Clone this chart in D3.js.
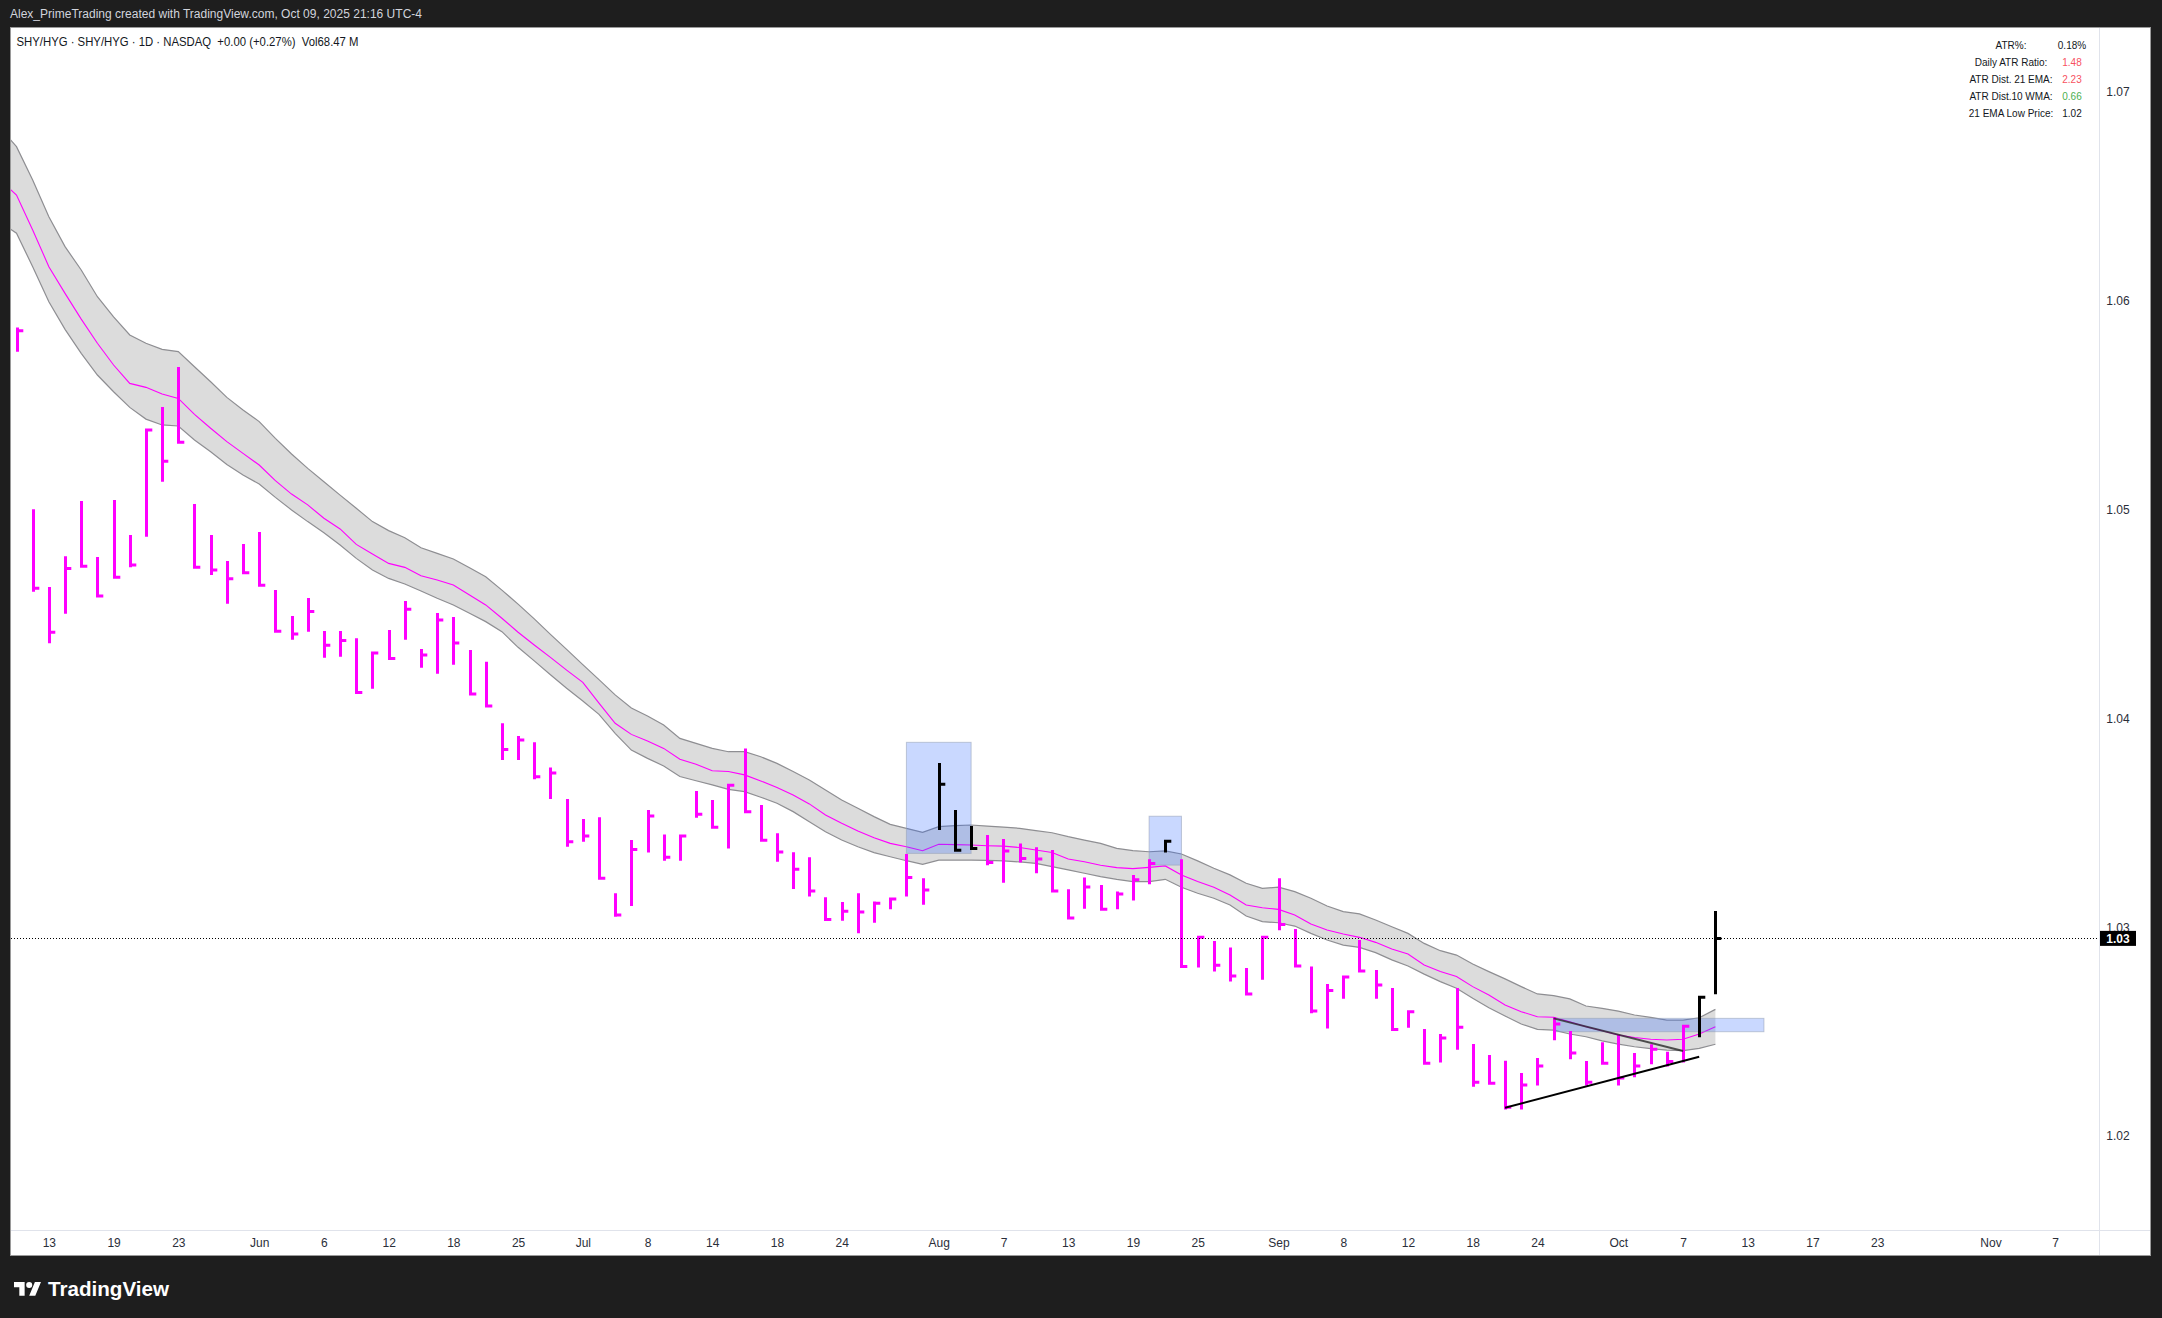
<!DOCTYPE html>
<html><head><meta charset="utf-8">
<script src="https://cdn.jsdelivr.net/npm/d3@7"></script>
<style>html,body{margin:0;padding:0;background:#1e1e1e;} svg{display:block;}</style>
</head><body>
<svg id="c" width="2162" height="1318"></svg>
<script>
// ---------- DATA ----------
const highs = [1.05871,1.05000,1.04628,1.04775,1.05040,1.04771,1.05044,1.04877,1.05384,1.05490,
1.05681,1.05025,1.04877,1.04752,1.04834,1.04891,1.04613,1.04489,1.04575,1.04417,
1.04417,1.04383,1.04316,1.04422,1.04561,1.04331,1.04503,1.04484,1.04326,1.04270,
1.03975,1.03914,1.03884,1.03764,1.03613,1.03517,1.03525,1.03161,1.03416,1.03560,
1.03443,1.03439,1.03651,1.03608,1.03683,1.03855,1.03584,1.03448,1.03357,1.03333,
1.03142,1.03119,1.03161,1.03122,1.03140,1.03349,1.03233,1.03785,1.03560,1.03483,
1.03440,1.03421,1.03400,1.03381,1.03368,1.03180,1.03237,1.03201,1.03170,1.03249,
1.03324,1.03413,1.03324,1.02953,1.02932,1.02901,1.02803,1.02953,1.03233,1.02990,
1.02810,1.02727,1.02765,1.02937,1.02794,1.02707,1.02599,1.02511,1.02487,1.02707,
1.02439,1.02386,1.02359,1.02300,1.02372,1.02568,1.02501,1.02358,1.02447,1.02484,
1.02396,1.02438,1.02402,1.02527,1.02666,1.03076];
const lows = [1.05755,1.04605,1.04358,1.04500,1.04722,1.04578,1.04667,1.04722,1.04869,1.05132,
1.05316,1.04717,1.04685,1.04548,1.04689,1.04629,1.04411,1.04375,1.04414,1.04289,
1.04294,1.04119,1.04141,1.04281,1.04375,1.04241,1.04213,1.04256,1.04109,1.04052,
1.03799,1.03799,1.03707,1.03613,1.03384,1.03408,1.03228,1.03049,1.03100,1.03356,
1.03317,1.03317,1.03523,1.03472,1.03375,1.03547,1.03408,1.03312,1.03182,1.03145,
1.03030,1.03030,1.02969,1.03020,1.03084,1.03145,1.03106,1.03464,1.03362,1.03371,
1.03295,1.03212,1.03309,1.03257,1.03167,1.03036,1.03087,1.03079,1.03084,1.03126,
1.03204,1.03356,1.02803,1.02806,1.02786,1.02738,1.02672,1.02747,1.02984,1.02806,
1.02586,1.02513,1.02656,1.02782,1.02656,1.02505,1.02517,1.02342,1.02350,1.02412,
1.02235,1.02246,1.02126,1.02125,1.02240,1.02457,1.02366,1.02241,1.02342,1.02241,
1.02280,1.02342,1.02332,1.02351,1.02471,1.02677];
const closes = [1.05855,1.04622,1.04411,1.04717,1.04727,1.04585,1.04674,1.04733,1.05380,1.05230,
1.05321,1.04722,1.04709,1.04667,1.04696,1.04636,1.04416,1.04403,1.04511,1.04349,
1.04372,1.04123,1.04312,1.04286,1.04521,1.04302,1.04470,1.04360,1.04115,1.04058,
1.03850,1.03895,1.03719,1.03737,1.03408,1.03435,1.03233,1.03057,1.03371,1.03531,
1.03333,1.03435,1.03539,1.03477,1.03678,1.03552,1.03415,1.03359,1.03276,1.03172,
1.03036,1.03075,1.03071,1.03113,1.03134,1.03237,1.03177,1.03683,1.03367,1.03376,
1.03309,1.03363,1.03327,1.03325,1.03172,1.03043,1.03191,1.03084,1.03158,1.03226,
1.03304,1.03410,1.02810,1.02950,1.02816,1.02765,1.02679,1.02950,1.03012,1.02813,
1.02597,1.02696,1.02760,1.02789,1.02722,1.02509,1.02594,1.02347,1.02468,1.02519,
1.02256,1.02251,1.02136,1.02243,1.02334,1.02535,1.02396,1.02256,1.02347,1.02276,
1.02334,1.02414,1.02355,1.02524,1.02663,1.02945];
const highlightBars = [57,58,59,71,104,105];

// band (21 EMA of highs / closes / lows), starting at bar index -1
const bandStart = -1;
const emaHigh = [1.06824,1.06737,1.06577,1.06401,1.06258,1.06146,1.06018,1.05922,1.05835,1.05795,1.05766,
1.05755,1.05683,1.05611,1.05536,1.05476,1.05420,1.05340,1.05265,1.05196,1.05132,
1.05068,1.05005,1.04941,1.04898,1.04864,1.04816,1.04789,1.04762,1.04720,1.04677,
1.04613,1.04546,1.04475,1.04401,1.04329,1.04256,1.04184,1.04111,1.04048,1.04010,
1.03967,1.03903,1.03879,1.03855,1.03839,1.03839,1.03815,1.03783,1.03744,1.03704,
1.03656,1.03608,1.03568,1.03528,1.03491,1.03472,1.03453,1.03480,1.03485,1.03488,
1.03483,1.03478,1.03472,1.03461,1.03451,1.03432,1.03416,1.03400,1.03376,1.03365,
1.03360,1.03364,1.03349,1.03316,1.03281,1.03249,1.03209,1.03185,1.03190,1.03169,
1.03137,1.03100,1.03073,1.03062,1.03033,1.03001,1.02969,1.02921,1.02886,1.02865,
1.02822,1.02786,1.02751,1.02714,1.02679,1.02671,1.02655,1.02621,1.02610,1.02597,
1.02578,1.02567,1.02554,1.02554,1.02565,1.02605];
const emaClose = [1.06575,1.06505,1.06338,1.06162,1.06034,1.05911,1.05795,1.05691,1.05603,1.05584,1.05552,
1.05531,1.05455,1.05388,1.05324,1.05268,1.05212,1.05137,1.05073,1.05021,1.04957,
1.04906,1.04832,1.04786,1.04741,1.04722,1.04682,1.04661,1.04637,1.04590,1.04542,
1.04478,1.04411,1.04350,1.04291,1.04230,1.04171,1.04072,1.03975,1.03922,1.03890,
1.03855,1.03803,1.03779,1.03748,1.03744,1.03728,1.03699,1.03668,1.03632,1.03589,
1.03536,1.03496,1.03459,1.03427,1.03400,1.03384,1.03365,1.03396,1.03394,1.03392,
1.03389,1.03387,1.03380,1.03368,1.03356,1.03325,1.03312,1.03295,1.03284,1.03279,
1.03285,1.03292,1.03249,1.03217,1.03190,1.03153,1.03105,1.03092,1.03084,1.03057,
1.03014,1.02985,1.02966,1.02950,1.02926,1.02894,1.02870,1.02818,1.02786,1.02762,
1.02714,1.02674,1.02626,1.02594,1.02570,1.02567,1.02546,1.02522,1.02503,1.02482,
1.02470,1.02462,1.02458,1.02462,1.02487,1.02522];
const emaLow = [1.06374,1.06322,1.06162,1.05994,1.05862,1.05747,1.05643,1.05563,1.05488,1.05432,1.05404,
1.05399,1.05332,1.05276,1.05215,1.05164,1.05121,1.05057,1.04997,1.04941,1.04888,
1.04829,1.04765,1.04709,1.04669,1.04642,1.04609,1.04574,1.04542,1.04502,1.04462,
1.04414,1.04339,1.04274,1.04208,1.04143,1.04082,1.04018,1.03927,1.03847,1.03807,
1.03771,1.03720,1.03700,1.03680,1.03659,1.03648,1.03621,1.03592,1.03552,1.03504,
1.03456,1.03416,1.03384,1.03356,1.03336,1.03317,1.03300,1.03320,1.03320,1.03320,
1.03319,1.03316,1.03311,1.03304,1.03289,1.03273,1.03257,1.03241,1.03228,1.03217,
1.03217,1.03228,1.03190,1.03161,1.03137,1.03105,1.03052,1.03025,1.03020,1.03004,
1.02969,1.02937,1.02913,1.02902,1.02877,1.02842,1.02813,1.02774,1.02738,1.02706,
1.02658,1.02613,1.02573,1.02535,1.02509,1.02506,1.02487,1.02474,1.02454,1.02439,
1.02426,1.02417,1.02410,1.02407,1.02418,1.02438];

// rectangles [startIdx, endIdx, lowPrice, highPrice]
const boxes = [[55,59,1.03352,1.03884],[70,72,1.03296,1.03530],[95,108,1.02498,1.02562]];
// trend lines [i0, p0, i1, p1]
const trendLines = [[95,1.02562,103,1.02406],[92,1.02134,104,1.02378]];

const priceTicks = [1.02,1.03,1.04,1.05,1.06,1.07];
const timeTickIdx = [2,6,10,15,19,23,27,31,35,39,43,47,51,57,61,65,69,73,78,82,86,90,94,99,103,107,111,115,122,126];
const timeTickLabels = ["13","19","23","Jun","6","12","18","25","Jul","8","14","18","24","Aug","7","13","19","25","Sep","8","12","18","24","Oct","7","13","17","23","Nov","7"];

const tableLabels = ["ATR%:","Daily ATR Ratio:","ATR Dist. 21 EMA:","ATR Dist.10 WMA:","21 EMA Low Price:"];
const tableValues = ["0.18%","1.48","2.23","0.66","1.02"];
const tableColors = ["#131722","#f7525f","#f7525f","#4caf50","#131722"];

const headerText = "Alex_PrimeTrading created with TradingView.com, Oct 09, 2025 21:16 UTC-4";
const legendText = "SHY/HYG · SHY/HYG · 1D · NASDAQ  +0.00 (+0.27%)  Vol68.47 M";

// ---------- DRAW ----------
const FONT = "'Liberation Sans', Arial, sans-serif";
const svg = d3.select("#c");
const W = 2162, H = 1318;
const L = 10, T = 27, R = 2151, B = 1256, AX = 2099, TA = 1230;

svg.append("rect").attr("width",W).attr("height",H).attr("fill","#1e1e1e");
svg.append("text").attr("x",10).attr("y",14).attr("dy","0.35em")
  .attr("font-family",FONT).attr("font-size",12).attr("fill","#d1d4dc")
  .attr("textLength",412).attr("lengthAdjust","spacingAndGlyphs").text(headerText);

svg.append("rect").attr("x",L+0.5).attr("y",T+0.5).attr("width",R-L-1).attr("height",B-T-1)
  .attr("fill","#ffffff").attr("stroke","#9a9a9a").attr("stroke-width",1);

svg.append("defs").append("clipPath").attr("id","plot")
  .append("rect").attr("x",L+1).attr("y",T+1).attr("width",AX-L-1).attr("height",TA-T-1);

const x = d3.scaleLinear().domain([0,105]).range([16.5, 16.5+105*16.18]);
const y = d3.scaleLinear().domain([1.02,1.07]).range([1135.7, 91.7]);

const plot = svg.append("g").attr("clip-path","url(#plot)");

const bandIdx = emaHigh.map((d,k)=>k+bandStart);
const area = d3.area().x((d,k)=>x(bandIdx[k])).y0((d,k)=>y(emaLow[k])).y1((d,k)=>y(emaHigh[k]));
plot.append("path").attr("d",area(emaHigh)).attr("fill","#dcdcdc");
const lineGen = arr => d3.line().x((d,k)=>x(bandIdx[k])).y(d=>y(d))(arr);
plot.append("path").attr("d",lineGen(emaHigh)).attr("fill","none").attr("stroke","#8e8e92").attr("stroke-width",1.2);
plot.append("path").attr("d",lineGen(emaLow)).attr("fill","none").attr("stroke","#8e8e92").attr("stroke-width",1.2);
plot.append("path").attr("d",lineGen(emaClose)).attr("fill","none").attr("stroke","#ff00ff").attr("stroke-width",1.1);

// boxes
plot.selectAll("rect.box").data(boxes).enter().append("rect").attr("class","box")
  .attr("x",d=>x(d[0])).attr("y",d=>y(d[3]))
  .attr("width",d=>x(d[1])-x(d[0])).attr("height",d=>y(d[2])-y(d[3]))
  .attr("fill","rgba(41,98,255,0.25)").attr("stroke","rgba(150,160,180,0.55)").attr("stroke-width",1);

// bars
const bars = plot.append("g");
closes.forEach((c,i)=>{
  const cx = Math.round(x(i))+0.5;
  const col = highlightBars.includes(i) ? "#000000" : "#ff00ff";
  bars.append("path")
    .attr("d",`M${cx},${y(highs[i])}V${y(lows[i])}M${cx-1.5},${y(c)}H${cx+5.8}`)
    .attr("stroke",col).attr("stroke-width",3).attr("fill","none");
});

// trend lines
plot.selectAll("line.tl").data(trendLines).enter().append("line").attr("class","tl")
  .attr("x1",d=>x(d[0])).attr("y1",d=>y(d[1])).attr("x2",d=>x(d[2])).attr("y2",d=>y(d[3]))
  .attr("stroke",(d,k)=>k===0?"rgba(40,40,40,0.8)":"#000").attr("stroke-width",2);

// last price dotted line
const last = closes[closes.length-1];
svg.append("line").attr("x1",L+1).attr("x2",AX).attr("y1",Math.round(y(last))+0.5).attr("y2",Math.round(y(last))+0.5)
  .attr("stroke","#000").attr("stroke-width",1).attr("stroke-dasharray","1,2");

// axes separators
svg.append("line").attr("x1",AX+0.5).attr("x2",AX+0.5).attr("y1",T+1).attr("y2",B-1).attr("stroke","#e0e3eb");
svg.append("line").attr("x1",L+1).attr("x2",R-1).attr("y1",TA+0.5).attr("y2",TA+0.5).attr("stroke","#e0e3eb");

// y axis
const yAxis = d3.axisRight(y).tickValues(priceTicks).tickFormat(d3.format(".2f")).tickSize(0).tickPadding(0);
const gy = svg.append("g").attr("transform","translate(2118,0)").call(yAxis);
gy.select(".domain").remove();
gy.selectAll("text").attr("x",0).attr("dy","0.35em").attr("text-anchor","middle")
  .attr("font-family",FONT).attr("font-size",12).attr("fill","#2a2e39");

// x axis
const xAxis = d3.axisBottom(x).tickValues(timeTickIdx).tickFormat((d,k)=>timeTickLabels[k]).tickSize(0).tickPadding(0);
const gx = svg.append("g").attr("transform","translate(0,1242.5)").call(xAxis);
gx.select(".domain").remove();
gx.selectAll("text").attr("y",0).attr("dy","0.35em")
  .attr("font-family",FONT).attr("font-size",12).attr("fill","#2a2e39");

// price label
const ly = y(last);
svg.append("rect").attr("x",AX+1).attr("y",ly-7.5).attr("width",36).attr("height",15).attr("fill","#000");
svg.append("text").attr("x",2118).attr("y",ly).attr("dy","0.35em").attr("text-anchor","middle")
  .attr("font-family",FONT).attr("font-size",12).attr("font-weight","bold").attr("fill","#fff").text(d3.format(".2f")(last));

// legend
svg.append("text").attr("x",16.5).attr("y",41.5).attr("dy","0.35em")
  .attr("font-family",FONT).attr("font-size",12).attr("fill","#131722")
  .attr("textLength",342).attr("lengthAdjust","spacingAndGlyphs").attr("xml:space","preserve").text(legendText);

// table
tableLabels.forEach((t,k)=>{
  svg.append("text").attr("x",2011).attr("y",45.5+17*k).attr("dy","0.35em").attr("text-anchor","middle")
    .attr("font-family",FONT).attr("font-size",10).attr("fill","#131722").text(t);
  svg.append("text").attr("x",2072).attr("y",45.5+17*k).attr("dy","0.35em").attr("text-anchor","middle")
    .attr("font-family",FONT).attr("font-size",10).attr("fill",tableColors[k]).text(tableValues[k]);
});

// logo
const logo = svg.append("g").attr("transform","translate(14,1279) scale(0.76)").attr("fill","#ffffff");
logo.append("path").attr("d","M14 22H7V11H0V4h14v18zM28 22h-8l7.5-18h8L28 22z");
logo.append("circle").attr("cx",20).attr("cy",8).attr("r",4);
svg.append("text").attr("x",48).attr("y",1296).attr("font-family",FONT).attr("font-size",21)
  .attr("font-weight","bold").attr("fill","#ffffff").attr("textLength",121).attr("lengthAdjust","spacingAndGlyphs").text("TradingView");
</script></body></html>
